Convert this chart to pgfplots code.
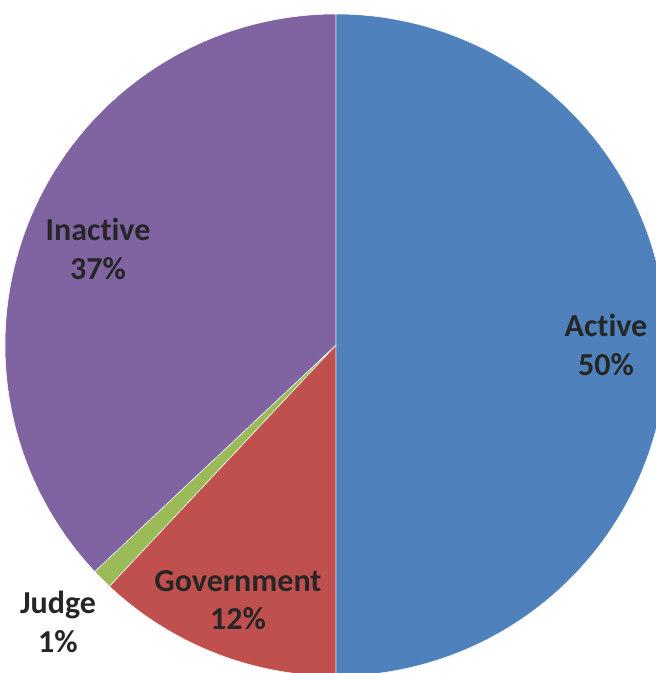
\documentclass[border=0pt]{standalone}
\usepackage{pgfplots}
\pgfplotsset{compat=1.18}
\usepackage{fontspec}
\setmainfont{Carlito}[RawFeature={-liga}]
\definecolor{cActive}{HTML}{4F81BD}
\definecolor{cGov}{HTML}{C0504D}
\definecolor{cJudge}{HTML}{9BBB59}
\definecolor{cInact}{HTML}{8064A2}
\definecolor{txt}{HTML}{262626}
% data (percent)
\def\vActive{50}
\def\vGov{12}
\def\vJudge{1}
\def\vInact{37}
\begin{document}
\begin{tikzpicture}
\pgfmathsetmacro{\aA}{90}
\pgfmathsetmacro{\aB}{\aA-3.6*\vActive}
\pgfmathsetmacro{\aC}{\aB-3.6*\vGov}
\pgfmathsetmacro{\aD}{\aC-3.6*\vJudge}
\pgfmathsetmacro{\aE}{\aD-3.6*\vInact}
\begin{axis}[
  hide axis, scale only axis,
  width=328pt, height=336.5pt,
  xmin=-1.0151, xmax=0.9668, ymin=-0.9909, ymax=1.0423,
  clip=true, clip bounding box=upper bound,
  variable=\t,
]
\addplot[fill=cActive, draw=white, line width=0.25pt, domain=\aB:\aA, samples=181] ({cos(t)},{sin(t)}) -- (0,0) -- cycle;
\addplot[fill=cGov, draw=white, line width=0.25pt, domain=\aC:\aB, samples=60] ({cos(t)},{sin(t)}) -- (0,0) -- cycle;
\addplot[fill=cJudge, draw=white, line width=0.25pt, domain=\aD:\aC, samples=10] ({cos(t)},{sin(t)}) -- (0,0) -- cycle;
\addplot[fill=cInact, draw=white, line width=0.25pt, domain=\aE:\aD, samples=140] ({cos(t)},{sin(t)}) -- (0,0) -- cycle;
\begin{scope}[every node/.style={align=center, text=txt, font=\fontsize{16}{19.2}\selectfont\bfseries}]
\node at (0.8157,0) {Active\\\vActive\%};
\node at (-0.7190,0.2900) {Inactive\\\vInact\%};
\node at (-0.2961,-0.7704) {Government\\\vGov\%};
\node at (-0.8399,-0.8369) {Judge\\\vJudge\%};
\end{scope}
\end{axis}
\pgfresetboundingbox
\useasboundingbox (current axis.south west) rectangle (current axis.north east);
\end{tikzpicture}
\end{document}
